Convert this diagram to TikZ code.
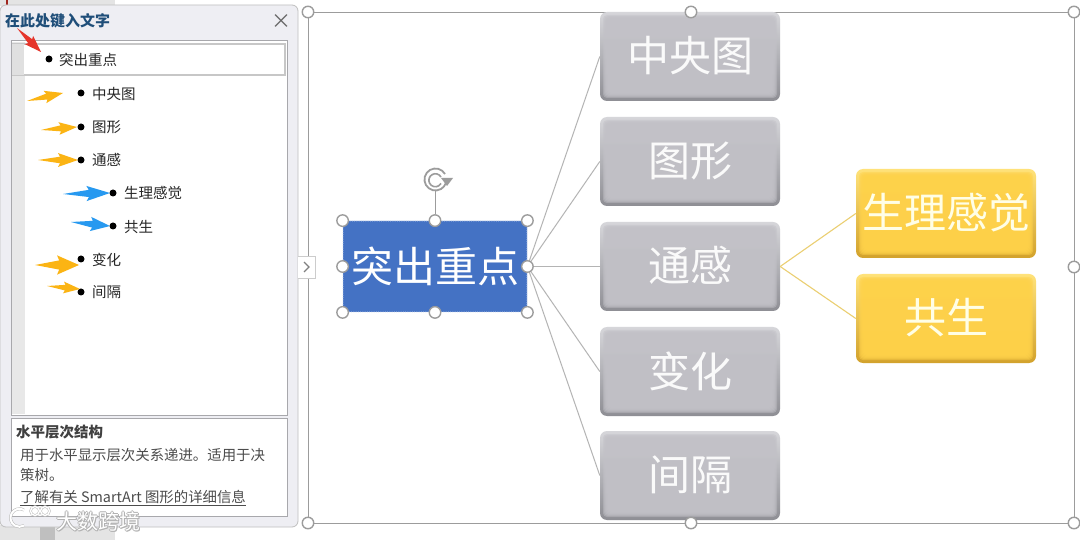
\documentclass[tikz,border=0pt]{standalone}
\usepackage{fontspec}
\usetikzlibrary{calc}
\setmainfont{Noto Sans CJK SC}
\definecolor{grayMain}{HTML}{C2C1C7}
\definecolor{grayTop}{HTML}{D6D6DA}
\definecolor{grayBot}{HTML}{8E8E94}
\definecolor{yelMain}{HTML}{FFD24A}
\definecolor{yelTop}{HTML}{FFE27A}
\definecolor{yelBot}{HTML}{D2A22C}
\definecolor{rootBlue}{HTML}{4472C4}
\definecolor{paneBg}{HTML}{EEEEF3}
\definecolor{paneLine}{HTML}{A8A8AC}
\definecolor{stripe}{HTML}{E8E8E8}
\definecolor{amber}{HTML}{FBB414}
\definecolor{skyArrow}{HTML}{2799F0}
\definecolor{redArrow}{HTML}{E5352B}
\definecolor{titleBlue}{HTML}{1F4E79}
\definecolor{handleLine}{HTML}{9C9C9C}
\definecolor{linkGray}{HTML}{B4B4B4}
\definecolor{linkYel}{HTML}{EBCF72}
\definecolor{paper}{HTML}{E4E4E4}
\newcommand{\sz}[1]{\fontsize{#1}{#1}\selectfont}
\newcommand{\up}[1]{\raisebox{4.5pt}{#1}}
\newcommand{\arrowshape}[4]{% colour, tail, tip, half width
  \coordinate (tl) at (#2); \coordinate (tp) at (#3);
  \fill[#1] (tl) -- ($(tl)!.55!(tp)!#4!90:(tp)$) -- ($(tl)!.50!(tp)!#4*2.1!90:(tp)$)
    -- (tp) -- ($(tl)!.50!(tp)!#4*2.1!-90:(tp)$) -- ($(tl)!.55!(tp)!#4!-90:(tp)$) -- cycle;}
\newcommand{\bevel}[1]{%
  \foreach \i in {3,...,8}{
    \fill[#1,opacity=.45,rounded corners=4pt]
      ([shift={(\i pt,-\i pt)}]path picture bounding box.north west)
      rectangle ([shift={(-\i pt,\i pt)}]path picture bounding box.south east);}}
\tikzset{
  graybox/.style={rounded corners=7pt,minimum width=180pt,minimum height=89pt,inner sep=0pt,
    top color=grayTop,bottom color=grayBot,text=white!92!grayMain,font=\sz{42},
    path picture={\bevel{grayMain}}},
  yelbox/.style={rounded corners=7pt,minimum width=180pt,minimum height=89pt,inner sep=0pt,
    top color=yelTop,bottom color=yelBot,text=white!90!yellow,font=\sz{42},
    path picture={\bevel{yelMain}}},
  rootbox/.style={rounded corners=3pt,minimum width=184pt,minimum height=91pt,inner sep=0pt,
    fill=rootBlue,draw=white!70!rootBlue,densely dotted,line width=.8pt,text=white,font=\sz{42}},
  handle/.style={circle,draw=handleLine,fill=white,line width=1.4pt,minimum size=11.5pt,inner sep=0pt},
  bul/.style={circle,fill=black,minimum size=7pt,inner sep=0pt},
  item/.style={anchor=west,inner sep=0pt,font=\sz{14.5},text=black!85},
  grayLink/.style={draw=linkGray,line width=1pt},
  yelLink/.style={draw=linkYel,line width=1.1pt},
  desc/.style={anchor=west,inner sep=0pt,font=\sz{14.4},text=black!70},
}
\begin{document}
\begin{tikzpicture}[x=1pt,y=-1pt]
\useasboundingbox (0,0) rectangle (1080,540);
\fill[white] (0,0) rectangle (1080,540);
% window behind the pane
\fill[paper] (0,0) rectangle (115,6);
\fill[paper] (0,525) rectangle (115,540);
\fill[black!25] (40,527) rectangle (55,540);
\fill[redArrow!70!black] (6,0) rectangle (8,5);
% selection frame
\draw[handleLine,line width=.9pt] (308,12) rectangle (1074,523);
% connectors' boxes
\node[rootbox] (root) at (435,266.5) {\up{突出重点}};
\node[graybox] (g1) at (690,56.5) {\up{中央图}};
\node[graybox] (g2) at (690,161.5) {\up{图形}};
\node[graybox] (g3) at (690,266.5) {\up{通感}};
\node[graybox] (g4) at (690,371.5) {\up{变化}};
\node[graybox] (g5) at (690,475.5) {\up{间隔}};
\node[yelbox] (y1) at (946,213.5) {\up{生理感觉}};
\node[yelbox] (y2) at (946,318.5) {\up{共生}};
\foreach \t in {g1,g2,g3,g4,g5} \draw[grayLink] (root.east) -- (\t.west);
\draw[yelLink] (g3.east) -- (y1.west);
\draw[yelLink] (g3.east) -- (y2.west);
% root handles
\coordinate (rotbase) at (435,190);
\node[handle] (rt) at (root.north) {};
\draw[handleLine,line width=1pt] (rotbase) -- (rt);
\node[handle] at (root.north west) {};
\node[handle] at (root.north east) {};
\node[handle] at (root.west) {};
\node[handle] at (root.east) {};
\node[handle] at (root.south west) {};
\node[handle] at (root.south) {};
\node[handle] at (root.south east) {};
% rotate icon
\draw[handleLine,line width=1.8pt] (445,174) arc[start angle=30,end angle=340,radius=11pt];
\draw[handleLine,line width=1.6pt] (441,177) arc[start angle=30,end angle=330,radius=6.5pt];
\fill[handleLine] (441,178) -- (453,178) -- (447,186) -- cycle;
% frame handles
\node[handle] at (308,12) {};
\node[handle] at (691,12) {};
\node[handle] at (1074,12) {};
\node[handle] at (1074,267) {};
\node[handle] at (1074,523) {};
\node[handle] at (691,523) {};
\node[handle] at (308,523) {};
% pane
\draw[draw=black!25,fill=paneBg,rounded corners=6pt,line width=.8pt] (0,5) rectangle (298,527);
\draw[draw=black!20,fill=white,line width=.8pt] (298,256) -- (315,256) -- (315,278) -- (298,278);
\draw[black!50,line width=1.2pt] (304,262) -- (309,267) -- (304,272);
\node[anchor=west,inner sep=0pt,text=titleBlue,font=\sz{15}\bfseries] (title) at (5,21) {在此处键入文字};
\node[inner sep=0pt,text=black!60,font=\sz{20}] (closex) at (281,22) {×};
\draw[draw=paneLine,fill=white,line width=1pt] (11,41) rectangle (287,415);
\fill[stripe] (12,42) rectangle (25,414);
\draw[draw=black!22,fill=white,line width=2pt] (13,44) rectangle (285,75);
\fill[black!12] (12,44) rectangle (24,75);
\draw[draw=paneLine,fill=white,line width=1pt] (11,418) rectangle (287,516);
% outline items
\node[bul] (b0) at (49,59) {};  \node[item] (t0) at (59,60) {突出重点};
\node[bul] (b1) at (81,93) {};  \node[item] (t1) at (92,93.5) {中央图};
\node[bul] (b2) at (81,127) {}; \node[item] (t2) at (92,127) {图形};
\node[bul] (b3) at (81,160) {}; \node[item] (t3) at (92,160) {通感};
\node[bul] (b4) at (113,193) {};\node[item] (t4) at (124,193.5) {生理感觉};
\node[bul] (b5) at (113,226) {};\node[item] (t5) at (124,227) {共生};
\node[bul] (b6) at (81,259) {}; \node[item] (t6) at (92,260) {变化};
\node[bul] (b7) at (81,292) {}; \node[item] (t7) at (92,292.5) {间隔};
% hand-drawn arrows
\arrowshape{amber}{27,101}{63,93}{3pt}
\arrowshape{amber}{41,130}{77,127}{3pt}
\arrowshape{amber}{38,160}{78,160}{3.3pt}
\arrowshape{skyArrow}{63,194}{110,193}{3.6pt}
\arrowshape{skyArrow}{71,222}{110,226}{3.4pt}
\arrowshape{amber}{35,265}{79,265}{4.6pt}
\arrowshape{amber}{47,286}{80,289}{2.8pt}
\arrowshape{redArrow}{17,28}{41,52}{2.8pt}
% description
\node[anchor=west,inner sep=0pt,font=\sz{14.5}\bfseries,text=black!75] (d0) at (16,432) {水平层次结构};
\node[desc] (d1) at (20,455) {用于水平显示层次关系递进。适用于决};
\node[desc] (d2) at (20,475) {策树。};
\node[desc] (d3) at (20,498) {\underline{了解有关 SmartArt 图形的详细信息}};
% watermark
\draw[black!28,line width=3pt] (24,510) arc[start angle=60,end angle=300,radius=9pt];
\draw[white,line width=2pt] (24,510) arc[start angle=60,end angle=300,radius=9pt];
\draw[black!28,line width=2.4pt] (35,511) circle[radius=4.5pt] (45,511) circle[radius=4.5pt];
\draw[white,line width=1.4pt] (35,511) circle[radius=4.5pt] (45,511) circle[radius=4.5pt];
\foreach \dx/\dy in {-1/0,1/0,0/-1,0/1,1/1}
  \node[anchor=west,inner sep=0pt,font=\sz{21},text=black!30] at (56+\dx,521+\dy) {大数跨境};
\node[anchor=west,inner sep=0pt,font=\sz{21},text=white] (wm) at (56,521) {大数跨境};
\end{tikzpicture}
\end{document}
